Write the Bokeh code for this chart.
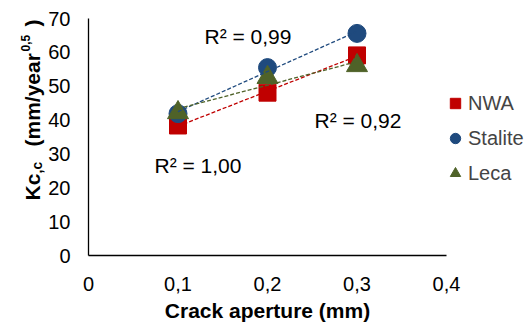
import numpy as np
from math import pi
from bokeh.plotting import figure
from bokeh.layouts import row
from bokeh.models import Range1d, FixedTicker, Label, Legend, LegendItem
from bokeh.embed import file_html
from bokeh.resources import INLINE

# ---- data ----
crack_aperture = [0.1, 0.2, 0.3]
nwa = [38.4, 48.1, 59.1]
stalite = [41.9, 55.5, 65.6]
leca = [42.2, 52.6, 56.1]
series_names = ["NWA", "Stalite", "Leca"]
r2_labels = ["R² = 1,00", "R² = 0,99", "R² = 0,92"]
x_ticks = [0, 0.1, 0.2, 0.3, 0.4]
x_tick_labels = ["0", "0,1", "0,2", "0,3", "0,4"]
y_ticks = [0, 10, 20, 30, 40, 50, 60, 70]
x_title = "Crack aperture (mm)"

FONT = "Liberation Sans"
RED, BLUE, GREEN = "#C00000", "#1F4A7E", "#4F6228"

H = 327
TITLE_W = 45          # width of the strip holding the rotated y title
X0, Y0 = 84, 255      # page pixel of data origin
FW, FH = 358, 237     # frame size
PX_PER_X = FW / 0.4
PX_PER_Y = FH / 70.0

def dx(px):  # page px -> data x
    return (px - X0) / PX_PER_X

def dy(py):  # page px -> data y
    return (Y0 - py) / PX_PER_Y

# ---- y title strip (its frame is aligned with the main frame by the row) ----
t = figure(width=TITLE_W, height=H, min_border_left=0, min_border_right=0,
           min_border_top=Y0 - FH, min_border_bottom=H - Y0,
           x_axis_type=None, y_axis_type=None,
           x_range=Range1d(0, TITLE_W), y_range=Range1d(H - Y0, H - (Y0 - FH)),
           output_backend="svg", toolbar_location=None)
t.outline_line_color = None
t.grid.visible = False
# (text, font px, baseline x, page y of text start)
y_parts = [("Kc", 21, 32, 200), (",c", 14, 36, 173), ("(mm/year", 21, 32, 146),
           ("0,5", 12, 25, 51), (")", 21, 32, 26)]
for txt, fs, bx, by in y_parts:
    t.add_layout(Label(x=bx, y=H - by, text=txt, text_font=FONT, text_font_size=f"{fs}px",
                       text_font_style="bold", angle=pi / 2, text_align="left",
                       text_baseline="alphabetic", text_color="black"))

# ---- main chart ----
p = figure(frame_width=FW, frame_height=FH, min_border_left=X0 - TITLE_W, min_border_right=0,
           min_border_top=Y0 - FH, min_border_bottom=H - Y0, output_backend="svg",
           toolbar_location=None, x_range=Range1d(0, 0.4), y_range=Range1d(0, 70))
p.outline_line_color = None
p.xgrid.visible = False
p.ygrid.visible = False

for ax in (p.xaxis[0], p.yaxis[0]):
    ax.axis_line_color = "black"
    ax.axis_line_width = 1.3
    ax.major_tick_line_color = None
    ax.minor_tick_line_color = None
    ax.major_tick_out = 0
    ax.major_tick_in = 0
    ax.major_label_text_font = FONT
    ax.major_label_text_font_size = "20px"
    ax.major_label_text_color = "black"

p.xaxis.ticker = FixedTicker(ticks=x_ticks)
p.xaxis.major_label_overrides = dict(zip(x_ticks, x_tick_labels))
p.xaxis.major_label_standoff = 21
p.xaxis.axis_label = x_title
p.xaxis.axis_label_text_font = FONT
p.xaxis.axis_label_text_font_size = "21px"
p.xaxis.axis_label_text_font_style = "bold"
p.xaxis.axis_label_text_color = "black"
p.xaxis.axis_label_standoff = 5
p.yaxis.ticker = FixedTicker(ticks=y_ticks)
p.yaxis.major_label_standoff = 18

# markers
r_nwa = p.scatter(crack_aperture, nwa, marker="square", size=17, color=RED)
r_sta = p.scatter(crack_aperture, stalite, marker="circle", size=18, color=BLUE)
r_lec = p.scatter(crack_aperture, leca, marker="triangle", size=21, color=GREEN)

# linear trendlines
xs = np.array(crack_aperture)
for ys, col in ((nwa, RED), (stalite, BLUE), (leca, GREEN)):
    k, b = np.polyfit(xs, ys, 1)
    p.line([xs[0], xs[-1]], [k * xs[0] + b, k * xs[-1] + b], line_color=col,
           line_width=1.3, line_dash="4 2")

# legend (right panel)
legend = Legend(items=[LegendItem(label=series_names[0], renderers=[r_nwa]),
                       LegendItem(label=series_names[1], renderers=[r_sta]),
                       LegendItem(label=series_names[2], renderers=[r_lec])],
                location=(-4, 67), glyph_width=26, glyph_height=30, spacing=5,
                padding=0, margin=0, border_line_color=None, background_fill_alpha=0,
                label_text_font=FONT, label_text_font_size="20px", label_standoff=0)
p.add_layout(legend, "right")

# R² annotations
r2_pos = [(150, 165), (200, 36), (310, 120)]
for txt, (cx, cy) in zip(r2_labels, r2_pos):
    p.add_layout(Label(x=dx(cx), y=dy(cy), text=txt, text_font=FONT, text_font_size="21px",
                       text_baseline="alphabetic", text_align="left", text_color="black"))

open("out.html", "w").write(file_html(row(t, p), INLINE))
